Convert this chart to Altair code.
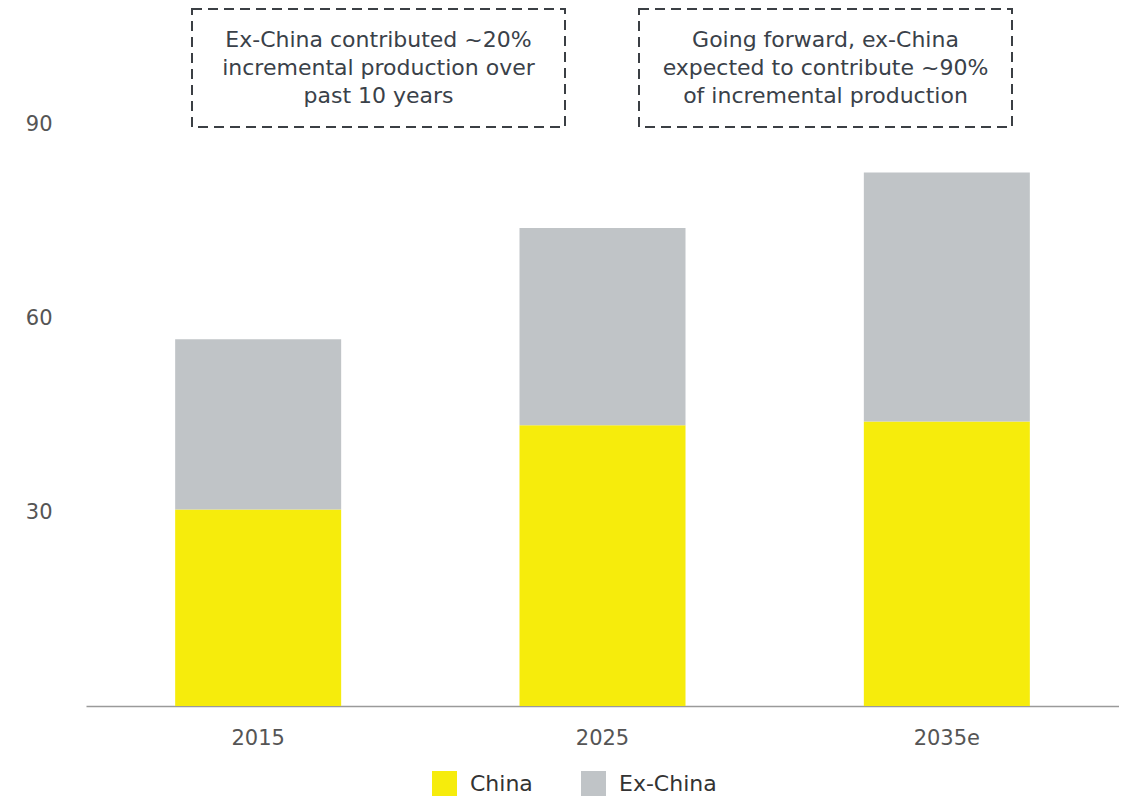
import altair as alt
import pandas as pd

years = ["2015", "2025", "2035e"]
china = [30.4, 43.4, 44.0]
ex_china = [26.3, 30.5, 38.5]
series = ["China", "Ex-China"]
colors = ["#F6EC0C", "#C0C4C7"]
notes = [
    ["Ex-China contributed ~20%", "incremental production over", "past 10 years"],
    ["Going forward, ex-China", "expected to contribute ~90%", "of incremental production"],
]

rows = []
for i, y in enumerate(years):
    rows.append({"year": y, "series": "China", "value": china[i], "ord": 0})
    rows.append({"year": y, "series": "Ex-China", "value": ex_china[i], "ord": 1})
df = pd.DataFrame(rows)

FONT = "DejaVu Sans"

bars = alt.Chart(df).mark_bar(size=166).encode(
    x=alt.X("year:N", sort=years, title=None,
            scale=alt.Scale(paddingInner=0, paddingOuter=0),
            axis=alt.Axis(labelAngle=0, labelFontSize=21, labelColor="#555555",
                          labelFont=FONT, ticks=False, labelPadding=21,
                          domainColor="#9a9a9a", domainWidth=1.5)),
    y=alt.Y("value:Q", stack="zero", title=None,
            scale=alt.Scale(domain=[0, 90], nice=False),
            axis=alt.Axis(values=[30, 60, 90], grid=False, domain=False, ticks=False,
                          labelFontSize=21, labelColor="#555555", labelFont=FONT,
                          labelPadding=34)),
    color=alt.Color("series:N", scale=alt.Scale(domain=series, range=colors),
                    legend=alt.Legend(title=None, orient="none", direction="horizontal",
                                      legendX=346, legendY=647, symbolType="square",
                                      symbolSize=625, symbolStrokeWidth=0,
                                      labelFontSize=22, labelFont=FONT,
                                      labelColor="#333333", columnPadding=48,
                                      symbolOffset=0, labelOffset=13)),
    order=alt.Order("ord:Q"),
)

box_df = pd.DataFrame({
    "x1": [106, 553], "x2": [479, 926],
    "xc": [292.5, 739.5], "text": notes,
})

boxes = alt.Chart(box_df).mark_rect(
    fill="white", fillOpacity=0, stroke="#3b3f44", strokeWidth=2, strokeDash=[10, 6]
).encode(
    x=alt.X("x1:Q", scale=None), x2="x2:Q",
    y=alt.value(-115), y2=alt.value(3),
)

texts = alt.Chart(box_df).mark_text(
    fontSize=22, font=FONT, color="#3a4149", lineHeight=28,
    align="center", baseline="middle"
).encode(
    x=alt.X("xc:Q", scale=None), y=alt.value(-84), text="text"
)

chart = alt.layer(bars, boxes, texts).configure(font=FONT).configure_view(
    stroke=None, strokeWidth=0
).properties(
    width=1033, height=582,
    padding={"left": 78, "top": 116, "right": 0, "bottom": 100},
    autosize=alt.AutoSizeParams(type="none"),
)

chart.save("out.html", embed_options={"renderer": "svg", "actions": False})
